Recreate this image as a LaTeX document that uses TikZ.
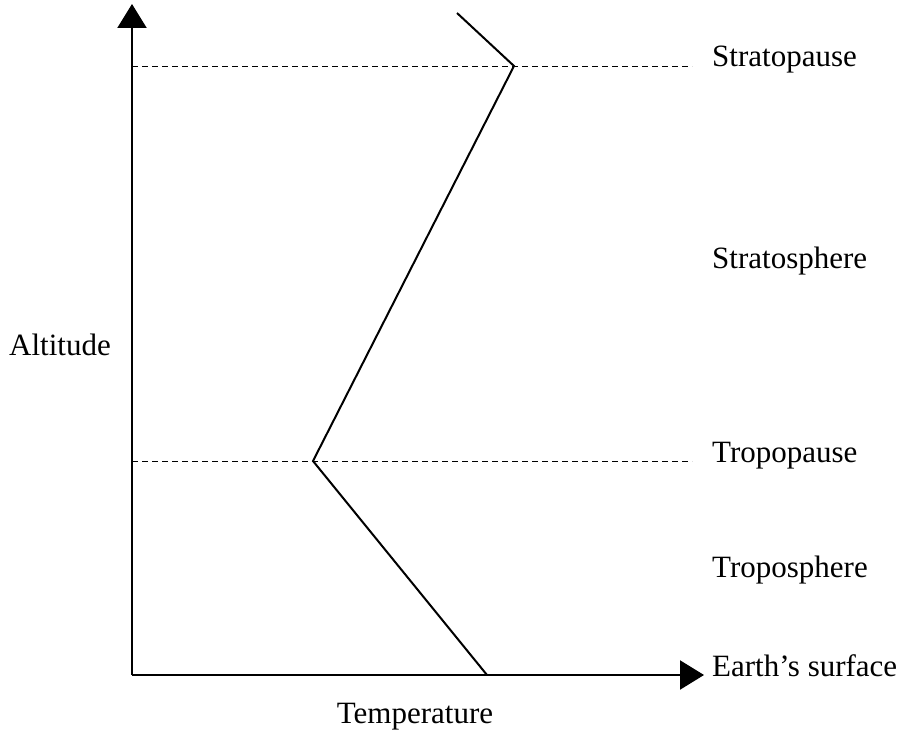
\documentclass[tikz,border=0pt]{standalone}
\usepackage{fontspec}
\setmainfont{Liberation Serif}
\usetikzlibrary{arrows.meta}
\begin{document}
\begin{tikzpicture}[x=1pt,y=-1pt,
  axis/.style={line width=2.2pt,-{Triangle[length=24pt,width=29pt]}},
  guide/.style={line width=0.9pt,dash pattern=on 6pt off 4pt},
  profile/.style={line width=2pt,line join=miter},
  lbl/.style={font=\fontsize{31}{33}\selectfont,inner sep=0pt}]
\useasboundingbox (0,0) rectangle (907,733);
\coordinate (O) at (132,675);
\coordinate (ytop) at (132,4);
\coordinate (xend) at (704,675);
\draw[axis] (O) -- (ytop);
\draw[axis] (O) -- (xend);
\coordinate (sl) at (132,66);
\coordinate (sr) at (692,66);
\coordinate (tl) at (132,461);
\coordinate (tr) at (692,461);
\draw[guide] (sl) -- (sr);
\draw[guide] (tl) -- (tr);
\coordinate (p0) at (487,675);
\coordinate (p1) at (313,461);
\coordinate (p2) at (514,66);
\coordinate (p3) at (457,13);
\draw[profile] (p0) -- (p1) -- (p2) -- (p3);
\node[lbl,anchor=base west] (stp) at (712,67) {Stratopause};
\node[lbl,anchor=base west] (sts) at (712,268) {Stratosphere};
\node[lbl,anchor=base west] (trp) at (712,462) {Tropopause};
\node[lbl,anchor=base west] (trs) at (712,577) {Troposphere};
\node[lbl,anchor=base west] (es) at (712,676) {Earth’s surface};
\node[lbl,anchor=base west] (alt) at (9,355) {Altitude};
\node[lbl,anchor=base] (tmp) at (415,723) {Temperature};
\end{tikzpicture}
\end{document}
